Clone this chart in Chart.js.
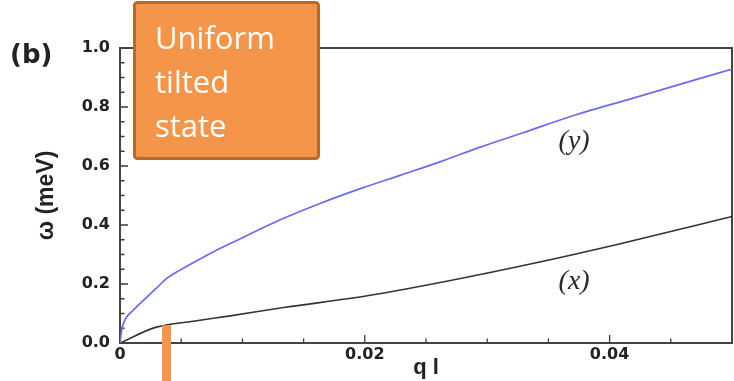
<!DOCTYPE html>
<html>
<head>
<meta charset="utf-8">
<script src="https://cdn.jsdelivr.net/npm/chart.js@4.4.1/dist/chart.umd.min.js"></script>
<style>
  html, body { margin: 0; padding: 0; background: #ffffff; }
  canvas { display: block; }
</style>
</head>
<body>
<canvas id="c" width="734" height="381"></canvas>
<script>
// Dispersion of the two spin-wave branches, omega (meV) against q l
const qY     = [0, 0.00014, 0.0004, 0.0011, 0.002, 0.003, 0.0038, 0.0049, 0.0065, 0.0082, 0.0100, 0.0115, 0.0131, 0.0164, 0.0197, 0.0230, 0.0262, 0.0295, 0.0328, 0.0372, 0.0420, 0.0460, 0.0502];
const omegaY = [0, 0.044, 0.078, 0.112, 0.148, 0.187, 0.218, 0.247, 0.284, 0.321, 0.357, 0.387, 0.418, 0.474, 0.524, 0.570, 0.615, 0.665, 0.711, 0.773, 0.831, 0.880, 0.931];

const qX     = [0, 0.0029, 0.006, 0.009, 0.0135, 0.0202, 0.027, 0.034, 0.0407, 0.0476, 0.0502];
const omegaX = [0, 0.053, 0.074, 0.092, 0.121, 0.160, 0.212, 0.272, 0.335, 0.404, 0.431];

// Axis ticks
const xMajorTicks = [0, 0.02, 0.04];
const xTickLabels = ['0', '0.02', '0.04'];
const xMinorTicks = [0.005, 0.01, 0.015, 0.025, 0.03, 0.035, 0.045];
const yMajorTicks = [0, 0.2, 0.4, 0.6, 0.8, 1.0];
const yTickLabels = ['0.0', '0.2', '0.4', '0.6', '0.8', '1.0'];
const yMinorTicks = [0.05, 0.1, 0.15, 0.25, 0.3, 0.35, 0.45, 0.5, 0.55, 0.65, 0.7, 0.75, 0.85, 0.9, 0.95];

// Branch labels placed in data coordinates
const branchLabels = [
  { text: '(y)', q: 0.0371, omega: 0.681 },
  { text: '(x)', q: 0.0371, omega: 0.207 }
];

// Marker for the uniform tilted state boundary
const markerQ = 0.0038;
const markerTop = 0.06;
const boxLines = ['Uniform', 'tilted', 'state'];

const toPoints = (qs, ws) => qs.map((q, i) => ({ x: q, y: ws[i] }));

const ORANGE = '#f5954a';

const frame = {
  id: 'frame',
  beforeDatasetsDraw(chart) {
    const { ctx, chartArea: a, scales: { x, y } } = chart;
    ctx.save();
    ctx.strokeStyle = '#3a3a3a';
    ctx.lineWidth = 1.3;
    // inward ticks on the bottom axis
    ctx.beginPath();
    xMajorTicks.forEach(v => { const px = x.getPixelForValue(v); ctx.moveTo(px, a.bottom); ctx.lineTo(px, a.bottom - 8); });
    xMinorTicks.forEach(v => { const px = x.getPixelForValue(v); ctx.moveTo(px, a.bottom); ctx.lineTo(px, a.bottom - 4.5); });
    // inward ticks on the left axis
    yMajorTicks.forEach(v => { const py = y.getPixelForValue(v); ctx.moveTo(a.left, py); ctx.lineTo(a.left + 8, py); });
    yMinorTicks.forEach(v => { const py = y.getPixelForValue(v); ctx.moveTo(a.left, py); ctx.lineTo(a.left + 4.5, py); });
    ctx.stroke();
    // plot frame
    ctx.lineWidth = 2;
    ctx.strokeStyle = '#444444';
    ctx.strokeRect(a.left, a.top, a.right - a.left, a.bottom - a.top);
    ctx.restore();
  },
  afterDraw(chart) {
    const { ctx, scales: { x, y } } = chart;
    ctx.save();
    // branch labels
    ctx.fillStyle = '#2a2a2a';
    ctx.font = 'italic 28px "Liberation Serif"';
    ctx.textAlign = 'center';
    ctx.textBaseline = 'middle';
    branchLabels.forEach(l => ctx.fillText(l.text, x.getPixelForValue(l.q), y.getPixelForValue(l.omega)));

    // panel letter
    ctx.font = 'bold 26px "DejaVu Sans"';
    ctx.textAlign = 'left';
    ctx.textBaseline = 'alphabetic';
    ctx.fillStyle = '#222222';
    ctx.fillText('(b)', 10, 63);

    // marker bar at the boundary
    const mx = x.getPixelForValue(markerQ);
    const my = y.getPixelForValue(markerTop);
    ctx.fillStyle = ORANGE;
    ctx.fillRect(mx - 4.5, my, 9, chart.height - my);

    // callout box
    ctx.beginPath();
    ctx.roundRect(134.5, 2.5, 184, 156, 3);
    ctx.fillStyle = ORANGE;
    ctx.fill();
    ctx.lineWidth = 3;
    ctx.strokeStyle = '#b8692e';
    ctx.stroke();
    ctx.fillStyle = '#ffffff';
    ctx.font = '31px "Open Sans"';
    boxLines.forEach((t, i) => ctx.fillText(t, 155, 49 + i * 44));
    ctx.restore();
  }
};

new Chart(document.getElementById('c'), {
  type: 'scatter',
  data: {
    datasets: [
      {
        label: '(y)',
        data: toPoints(qY, omegaY),
        showLine: true,
        borderColor: '#6b6bef',
        borderWidth: 1.7,
        pointRadius: 0,
        cubicInterpolationMode: 'monotone'
      },
      {
        label: '(x)',
        data: toPoints(qX, omegaX),
        showLine: true,
        borderColor: '#333333',
        borderWidth: 1.6,
        pointRadius: 0,
        cubicInterpolationMode: 'monotone'
      }
    ]
  },
  options: {
    responsive: false,
    devicePixelRatio: 1,
    animation: false,
    layout: { padding: { top: 48, right: 2, left: 0, bottom: 0 } },
    plugins: { legend: { display: false }, tooltip: { enabled: false } },
    scales: {
      x: {
        type: 'linear',
        min: 0,
        max: 0.05,
        grid: { display: false, drawTicks: false },
        border: { display: false },
        afterBuildTicks: s => { s.ticks = xMajorTicks.map(v => ({ value: v })); },
        afterFit: s => { s.height = 38; },
        ticks: {
          autoSkip: false,
          maxRotation: 0,
          padding: 2,
          color: '#222222',
          font: { family: 'DejaVu Sans', weight: 'bold', size: 16 },
          callback: v => xTickLabels[xMajorTicks.indexOf(v)]
        },
        title: {
          display: true,
          text: 'q l',
          color: '#222222',
          font: { family: 'Liberation Sans', weight: 'bold', size: 22 },
          padding: { top: 0, bottom: 0 }
        }
      },
      y: {
        type: 'linear',
        min: 0,
        max: 1,
        grid: { display: false, drawTicks: false },
        border: { display: false },
        afterBuildTicks: s => { s.ticks = yMajorTicks.map(v => ({ value: v })); },
        afterFit: s => { s.width = 120; },
        ticks: {
          autoSkip: false,
          padding: 10,
          color: '#222222',
          font: { family: 'DejaVu Sans', weight: 'bold', size: 16 },
          callback: v => yTickLabels[yMajorTicks.indexOf(v)]
        },
        title: {
          display: true,
          text: 'ω (meV)',
          color: '#222222',
          font: { family: 'Liberation Sans', weight: 'bold', size: 23 },
          padding: { top: 33, bottom: 0 }
        }
      }
    }
  },
  plugins: [frame]
});
</script>
</body>
</html>
